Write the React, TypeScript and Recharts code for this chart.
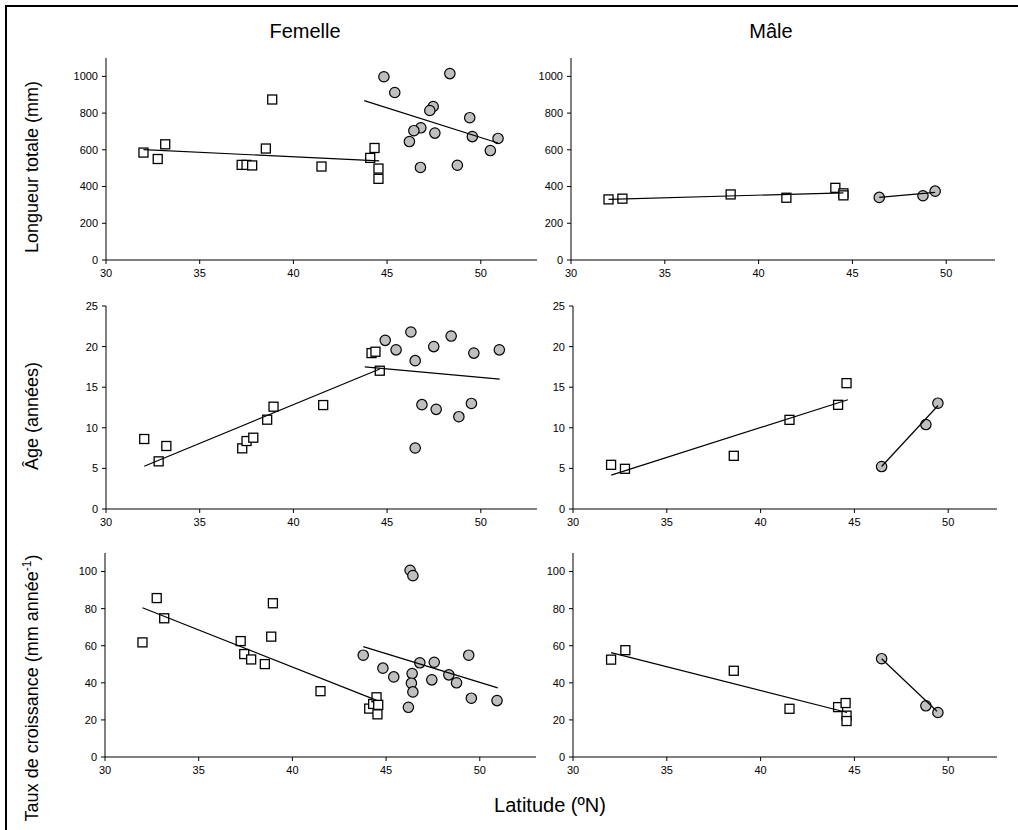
import React from 'react';
import { ScatterChart, Scatter, XAxis, YAxis } from 'recharts';

const FONT = '"Liberation Sans", Arial, sans-serif';

// Tick labels
const X_TICKS = [30, 35, 40, 45, 50];
const LEN_TICKS = [0, 200, 400, 600, 800, 1000];
const AGE_TICKS = [0, 5, 10, 15, 20, 25];
const GROWTH_TICKS = [0, 20, 40, 60, 80, 100];

// ---------- Longueur totale (mm), Femelle ----------
const lenF_sqLat = [32.0, 32.76, 33.16, 37.24, 37.5, 37.8, 38.53, 38.87, 41.5, 44.1, 44.33, 44.54, 44.54];
const lenF_sqVal = [585, 550, 630, 518, 518, 515, 607, 874, 509, 556, 610, 498, 442];
const lenF_ciLat = [44.83, 45.41, 48.35, 47.46, 47.28, 49.41, 46.8, 46.43, 47.55, 46.19, 49.55, 50.92, 50.51, 46.78, 48.75];
const lenF_ciVal = [998, 912, 1015, 836, 814, 775, 720, 704, 691, 645, 672, 662, 596, 504, 516];
const lenF_sqFitLat = [32.0, 44.58];
const lenF_sqFitVal = [601, 540];
const lenF_ciFitLat = [43.78, 50.92];
const lenF_ciFitVal = [868, 637];

// ---------- Longueur totale (mm), Mâle ----------
const lenM_sqLat = [32.0, 32.74, 38.51, 41.48, 44.09, 44.52, 44.52];
const lenM_sqVal = [330, 334, 357, 339, 393, 363, 352];
const lenM_ciLat = [46.43, 48.76, 49.41];
const lenM_ciVal = [341, 350, 375];
const lenM_sqFitLat = [32.0, 44.52];
const lenM_sqFitVal = [330, 366];
const lenM_ciFitLat = [46.43, 49.41];
const lenM_ciFitVal = [341, 368];

// ---------- Âge (années), Femelle ----------
const ageF_sqLat = [32.04, 32.81, 33.22, 37.27, 37.5, 37.86, 38.6, 38.94, 41.59, 44.17, 44.38, 44.61];
const ageF_sqVal = [8.62, 5.87, 7.76, 7.47, 8.37, 8.78, 11.0, 12.6, 12.8, 19.2, 19.37, 17.03];
const ageF_ciLat = [44.9, 45.48, 46.27, 46.5, 47.49, 48.42, 49.63, 50.99, 46.86, 47.62, 48.83, 49.5, 46.5];
const ageF_ciVal = [20.77, 19.6, 21.8, 18.27, 20.0, 21.3, 19.2, 19.6, 12.85, 12.27, 11.37, 13.0, 7.51];
const ageF_sqFitLat = [32.04, 44.61];
const ageF_sqFitVal = [5.26, 17.24];
const ageF_ciFitLat = [43.81, 51.01];
const ageF_ciFitVal = [17.5, 16.0];

// ---------- Âge (années), Mâle ----------
const ageM_sqLat = [32.03, 32.77, 38.57, 41.54, 44.13, 44.58];
const ageM_sqVal = [5.44, 4.95, 6.55, 10.98, 12.83, 15.5];
const ageM_ciLat = [46.45, 48.81, 49.45];
const ageM_ciVal = [5.23, 10.4, 13.03];
const ageM_sqFitLat = [32.04, 44.65];
const ageM_sqFitVal = [4.17, 13.45];
const ageM_ciFitLat = [46.45, 49.46];
const ageM_ciFitVal = [5.23, 12.75];

// ---------- Taux de croissance, Femelle ----------
const grF_sqLat = [32.0, 32.76, 33.16, 37.24, 37.43, 37.8, 38.53, 38.87, 38.96, 41.5, 44.1, 44.31, 44.49, 44.58, 44.54];
const grF_sqVal = [61.8, 85.7, 74.8, 62.5, 55.5, 52.6, 50.1, 64.9, 82.9, 35.5, 26.1, 28.6, 32.2, 28.1, 23.0];
const grF_ciLat = [46.28, 46.43, 43.78, 44.83, 45.41, 46.8, 47.57, 46.39, 46.35, 46.43, 47.44, 48.35, 48.76, 49.41, 49.55, 50.92, 46.19];
const grF_ciVal = [100.7, 97.8, 54.9, 47.9, 43.2, 50.8, 51.1, 45.0, 39.8, 35.1, 41.6, 44.3, 40.0, 54.9, 31.7, 30.4, 26.8];
const grF_sqFitLat = [32.0, 44.54];
const grF_sqFitVal = [80.5, 30.4];
const grF_ciFitLat = [43.78, 50.96];
const grF_ciFitVal = [59.5, 37.3];

// ---------- Taux de croissance, Mâle ----------
const grM_sqLat = [32.03, 32.79, 38.57, 41.54, 44.13, 44.53, 44.58, 44.58];
const grM_sqVal = [52.5, 57.6, 46.5, 26.0, 26.9, 29.1, 22.3, 19.4];
const grM_ciLat = [46.45, 48.81, 49.45];
const grM_ciVal = [53.0, 27.6, 24.0];
const grM_sqFitLat = [32.03, 44.61];
const grM_sqFitVal = [56.3, 24.0];
const grM_ciFitLat = [46.45, 49.4];
const grM_ciFitVal = [53.0, 24.7];

const zip = (xs: number[], ys: number[]) => xs.map((x, i) => ({ x, y: ys[i] }));

const SquareShape = (props: any) => {
  const { cx, cy } = props;
  if (cx == null || cy == null) return <g />;
  return <rect x={cx - 4.5} y={cy - 4.5} width={9} height={9} fill="#ffffff" stroke="#000" strokeWidth={1.3} />;
};
const CircleShape = (props: any) => {
  const { cx, cy } = props;
  if (cx == null || cy == null) return <g />;
  return <circle cx={cx} cy={cy} r={5.2} fill="#bfbfbf" stroke="#000" strokeWidth={1.2} />;
};
const NoShape = () => <g />;

type PanelProps = {
  left: number;
  top: number;
  plotW: number;
  plotH: number;
  xMax: number;
  yMax: number;
  yTicks: number[];
  sq: { x: number; y: number }[];
  ci: { x: number; y: number }[];
  sqFit: { x: number; y: number }[];
  ciFit: { x: number; y: number }[];
};

const Panel = ({ left, top, plotW, plotH, xMax, yMax, yTicks, sq, ci, sqFit, ciFit }: PanelProps) => {
  const yW = 60;
  const mTop = 10;
  const mRight = 10;
  const xH = 30;
  const tickStyle = { fill: '#000', fontSize: 11, fontFamily: FONT };
  return (
    <div style={{ position: 'absolute', left: left - yW, top: top - mTop }}>
      <ScatterChart
        width={yW + plotW + mRight}
        height={mTop + plotH + xH}
        margin={{ top: mTop, right: mRight, bottom: 0, left: 0 }}
      >
        <XAxis
          type="number"
          dataKey="x"
          domain={[30, xMax]}
          ticks={X_TICKS}
          allowDataOverflow
          height={xH}
          tick={tickStyle}
          tickSize={4}
          tickMargin={5}
          axisLine={{ stroke: '#000', strokeWidth: 1 }}
          tickLine={{ stroke: '#000' }}
        />
        <YAxis
          type="number"
          dataKey="y"
          domain={[0, yMax]}
          ticks={yTicks}
          allowDataOverflow
          width={yW}
          tick={tickStyle}
          tickSize={4}
          tickMargin={4}
          axisLine={{ stroke: '#000', strokeWidth: 1 }}
          tickLine={{ stroke: '#000' }}
        />
        <Scatter data={sq} shape={SquareShape} isAnimationActive={false} />
        <Scatter data={ci} shape={CircleShape} isAnimationActive={false} />
        <Scatter data={sqFit} shape={NoShape} line={{ stroke: '#000', strokeWidth: 1.2 }} isAnimationActive={false} />
        <Scatter data={ciFit} shape={NoShape} line={{ stroke: '#000', strokeWidth: 1.2 }} isAnimationActive={false} />
      </ScatterChart>
    </div>
  );
};

export default function App() {
  return (
    <div
      style={{
        position: 'absolute',
        left: 0,
        top: 0,
        width: 1018,
        height: 830,
        overflow: 'hidden',
        background: '#fff',
        fontFamily: FONT,
      }}
    >
      <svg width={1018} height={830} style={{ position: 'absolute', left: 0, top: 0 }}>
        <line x1={5} y1={6} x2={1018} y2={6} stroke="#000" strokeWidth={2} />
        <line x1={6} y1={5} x2={6} y2={830} stroke="#000" strokeWidth={2} />
        <text x={305} y={38} textAnchor="middle" fontSize={20} fontFamily={FONT} fill="#000">Femelle</text>
        <text x={771} y={38} textAnchor="middle" fontSize={20} fontFamily={FONT} fill="#000">Mâle</text>
        <text x={550} y={812} textAnchor="middle" fontSize={20} fontFamily={FONT} fill="#000">Latitude (ºN)</text>
        <text x={38} y={167} textAnchor="middle" fontSize={18} fontFamily={FONT} fill="#000" transform="rotate(-90 38 167)">
          Longueur totale (mm)
        </text>
        <text x={38} y={416} textAnchor="middle" fontSize={18} fontFamily={FONT} fill="#000" transform="rotate(-90 38 416)">
          Âge (années)
        </text>
        <text x={38} y={688} textAnchor="middle" fontSize={18} fontFamily={FONT} fill="#000" transform="rotate(-90 38 688)">
          Taux de croissance (mm année<tspan fontSize={12} dy={-7}>-1</tspan><tspan dy={7}>)</tspan>
        </text>
      </svg>

      <Panel left={106} top={58} plotW={431} plotH={202} xMax={53} yMax={1100} yTicks={LEN_TICKS}
        sq={zip(lenF_sqLat, lenF_sqVal)} ci={zip(lenF_ciLat, lenF_ciVal)}
        sqFit={zip(lenF_sqFitLat, lenF_sqFitVal)} ciFit={zip(lenF_ciFitLat, lenF_ciFitVal)} />
      <Panel left={571} top={58} plotW={424} plotH={202} xMax={52.6} yMax={1100} yTicks={LEN_TICKS}
        sq={zip(lenM_sqLat, lenM_sqVal)} ci={zip(lenM_ciLat, lenM_ciVal)}
        sqFit={zip(lenM_sqFitLat, lenM_sqFitVal)} ciFit={zip(lenM_ciFitLat, lenM_ciFitVal)} />

      <Panel left={106} top={306} plotW={431} plotH={203} xMax={53} yMax={25} yTicks={AGE_TICKS}
        sq={zip(ageF_sqLat, ageF_sqVal)} ci={zip(ageF_ciLat, ageF_ciVal)}
        sqFit={zip(ageF_sqFitLat, ageF_sqFitVal)} ciFit={zip(ageF_ciFitLat, ageF_ciFitVal)} />
      <Panel left={573} top={306} plotW={424} plotH={203} xMax={52.6} yMax={25} yTicks={AGE_TICKS}
        sq={zip(ageM_sqLat, ageM_sqVal)} ci={zip(ageM_ciLat, ageM_ciVal)}
        sqFit={zip(ageM_sqFitLat, ageM_sqFitVal)} ciFit={zip(ageM_ciFitLat, ageM_ciFitVal)} />

      <Panel left={105} top={553} plotW={431} plotH={204} xMax={53} yMax={110} yTicks={GROWTH_TICKS}
        sq={zip(grF_sqLat, grF_sqVal)} ci={zip(grF_ciLat, grF_ciVal)}
        sqFit={zip(grF_sqFitLat, grF_sqFitVal)} ciFit={zip(grF_ciFitLat, grF_ciFitVal)} />
      <Panel left={573} top={553} plotW={424} plotH={204} xMax={52.6} yMax={110} yTicks={GROWTH_TICKS}
        sq={zip(grM_sqLat, grM_sqVal)} ci={zip(grM_ciLat, grM_ciVal)}
        sqFit={zip(grM_sqFitLat, grM_sqFitVal)} ciFit={zip(grM_ciFitLat, grM_ciFitVal)} />
    </div>
  );
}
